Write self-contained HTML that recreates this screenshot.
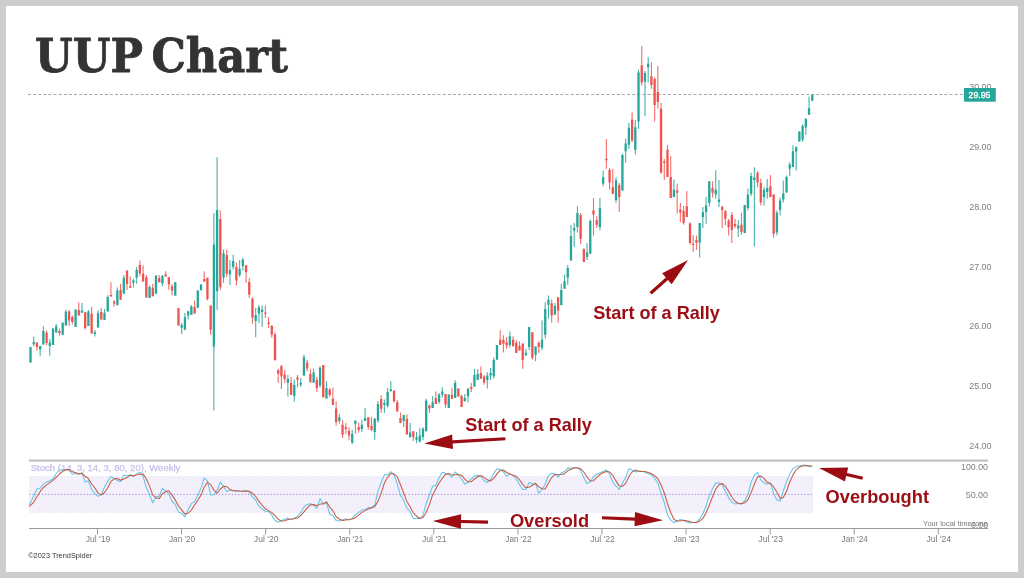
<!DOCTYPE html>
<html lang="en"><head><meta charset="utf-8"><title>UUP Chart</title>
<style>
html,body{margin:0;padding:0;background:#cdcdcd;}
body{width:1024px;height:578px;overflow:hidden;position:relative;font-family:"Liberation Sans",sans-serif;}
svg text{white-space:pre;}
</style></head><body>
<svg width="1024" height="578" viewBox="0 0 1024 578" style="position:absolute;left:0;top:0;display:block">
<rect x="0" y="0" width="1024" height="578" fill="#cdcdcd"/>
<rect x="6" y="6" width="1012" height="566" fill="#ffffff"/>
<text x="35" y="72.1" font-family="'DejaVu Serif', 'Liberation Serif', serif" font-weight="bold" font-size="46.5" fill="#333333" stroke="#333333" stroke-width="0.8" stroke-linejoin="round" textLength="253" lengthAdjust="spacingAndGlyphs" style="word-spacing:-7px">UUP Chart</text>
<text x="969.2" y="90.00" font-family="'Liberation Sans', sans-serif" font-size="9.7" fill="#808080" textLength="22.3" lengthAdjust="spacingAndGlyphs">30.00</text>
<text x="969.2" y="149.50" font-family="'Liberation Sans', sans-serif" font-size="9.7" fill="#808080" textLength="22.3" lengthAdjust="spacingAndGlyphs">29.00</text>
<text x="969.2" y="209.50" font-family="'Liberation Sans', sans-serif" font-size="9.7" fill="#808080" textLength="22.3" lengthAdjust="spacingAndGlyphs">28.00</text>
<text x="969.2" y="269.50" font-family="'Liberation Sans', sans-serif" font-size="9.7" fill="#808080" textLength="22.3" lengthAdjust="spacingAndGlyphs">27.00</text>
<text x="969.2" y="329.00" font-family="'Liberation Sans', sans-serif" font-size="9.7" fill="#808080" textLength="22.3" lengthAdjust="spacingAndGlyphs">26.00</text>
<text x="969.2" y="389.00" font-family="'Liberation Sans', sans-serif" font-size="9.7" fill="#808080" textLength="22.3" lengthAdjust="spacingAndGlyphs">25.00</text>
<text x="969.2" y="449.00" font-family="'Liberation Sans', sans-serif" font-size="9.7" fill="#808080" textLength="22.3" lengthAdjust="spacingAndGlyphs">24.00</text>
<line x1="28.0" y1="94.5" x2="964" y2="94.5" stroke="#a4a4a4" stroke-width="1" stroke-dasharray="2.9 2.22"/>
<path d="M30.50 347.0V362.5M33.72 336.5V346.2M40.15 346.0V355.8M43.37 326.3V344.4M49.80 339.0V355.8M53.02 328.5V345.0M56.24 324.0V332.5M62.67 321.9V334.8M65.89 309.4V325.6M75.54 309.4V326.9M81.97 303.1V312.8M88.41 310.0V326.0M94.84 330.0V336.5M98.06 310.3V327.5M104.49 309.0V320.0M107.71 295.3V311.5M117.36 287.5V305.3M123.80 275.0V293.8M133.45 278.8V287.5M136.66 266.9V283.8M149.53 285.3V298.1M155.97 275.6V293.8M162.40 275.0V286.5M175.27 282.3V295.6M181.70 323.0V334.0M184.92 313.0V329.8M188.14 311.3V319.4M191.35 305.0V314.8M197.79 290.6V307.8M201.01 284.4V290.3M213.87 213.1V410.6M217.09 157.2V309.8M223.53 249.4V282.8M229.96 260.0V285.0M233.18 254.8V269.4M239.61 260.0V276.9M242.83 258.1V270.6M255.70 308.1V337.3M258.91 305.0V323.1M262.13 305.6V326.9M287.87 375.0V396.5M294.30 379.4V401.5M300.74 378.1V386.9M303.95 354.4V375.6M313.60 369.0V382.8M320.04 366.0V387.5M326.47 381.3V398.5M339.34 414.0V423.5M352.21 429.8V443.8M355.43 420.6V433.8M361.86 419.4V432.3M365.08 408.1V421.0M374.73 418.1V439.8M377.95 401.0V422.8M384.38 399.4V413.1M387.60 388.1V407.5M390.82 381.3V391.3M403.68 415.0V426.9M410.12 423.1V437.3M416.55 431.9V443.1M419.77 428.1V442.5M422.99 427.3V440.3M426.20 398.8V431.3M432.64 396.0V408.1M439.07 393.1V403.8M442.29 387.3V397.5M448.72 394.4V408.1M455.16 380.3V398.1M464.81 394.0V401.3M468.03 388.5V402.3M474.46 369.0V386.5M477.68 369.0V380.0M487.33 372.3V388.5M490.55 368.1V380.0M493.76 357.5V378.8M496.98 345.0V359.8M509.85 331.5V347.5M525.93 349.0V356.3M529.15 326.9V350.0M535.58 346.5V361.3M542.02 320.6V350.3M545.24 302.3V338.5M548.45 295.6V318.8M554.89 303.1V314.8M561.32 284.0V305.6M564.54 274.4V288.8M567.76 265.0V285.0M570.97 225.0V260.6M574.19 223.1V246.9M577.41 206.3V232.5M587.06 243.1V260.0M590.28 219.4V253.8M599.93 198.1V230.6M603.14 170.6V186.3M616.01 177.3V203.1M622.45 153.5V190.6M625.66 138.5V162.8M628.88 123.1V149.0M635.31 120.0V154.4M638.53 69.4V129.0M644.97 71.0V116.3M648.18 56.9V82.5M673.92 179.4V196.9M699.66 223.1V257.5M702.87 206.9V228.1M706.09 196.9V223.8M709.31 181.3V206.6M715.74 170.3V198.8M718.96 180.0V206.9M738.26 220.0V236.9M744.70 205.0V233.1M747.91 188.8V210.6M751.13 172.8V196.0M754.35 167.3V246.5M764.00 187.3V205.6M767.22 179.0V198.8M776.87 210.6V235.6M780.08 197.5V215.6M783.30 180.6V202.5M786.52 175.6V192.5M789.74 162.3V176.2M792.95 145.5V166.9M796.17 146.3V170.6M799.39 131.6V141.6M802.60 124.1V141.8M805.82 117.9V135.0M809.04 96.6V114.8M812.26 94.8V100.8" stroke="#26a69a" stroke-width="1.1" fill="none" opacity="0.85"/>
<path d="M36.93 342.5V350.6M46.59 330.6V345.3M59.45 328.5V335.6M69.11 310.0V326.0M72.32 315.6V324.4M78.76 302.3V315.6M85.19 312.3V329.8M91.62 306.9V333.5M101.28 308.1V319.4M110.93 282.3V296.5M114.14 300.0V306.5M120.58 284.0V299.8M127.01 270.6V290.0M130.23 276.5V287.8M139.88 260.6V276.3M143.10 265.6V281.5M146.32 275.0V297.5M152.75 284.0V296.3M159.18 275.0V282.3M165.62 271.3V276.5M168.84 277.3V289.8M172.05 284.0V295.3M178.49 308.1V325.6M194.57 300.6V313.5M204.22 271.3V281.5M207.44 277.8V300.6M210.66 305.6V334.8M220.31 210.6V290.3M226.74 249.8V276.9M236.39 262.5V285.6M246.05 265.3V282.8M249.26 278.1V298.1M252.48 297.3V323.8M265.35 305.6V318.1M268.57 316.9V328.1M271.78 325.0V337.8M275.00 332.3V360.3M278.22 368.8V382.8M281.43 365.0V389.0M284.65 370.0V382.8M291.09 376.9V394.8M297.52 375.0V387.5M307.17 360.0V371.5M310.39 369.0V382.3M316.82 376.9V391.9M323.26 365.0V397.3M329.69 388.1V397.3M332.91 387.8V405.0M336.12 401.3V425.6M342.56 420.0V438.1M345.78 423.1V433.8M348.99 427.3V440.3M358.64 422.3V432.8M368.30 417.3V429.8M371.51 416.9V431.0M381.16 395.3V413.1M394.03 390.6V402.8M397.25 400.0V411.5M400.47 412.5V423.1M406.90 414.4V434.4M413.33 431.3V441.0M429.42 404.4V413.1M435.85 391.5V404.0M445.51 394.0V407.8M451.94 387.8V398.8M458.37 388.5V396.5M461.59 394.4V406.9M471.24 383.1V391.9M480.89 366.5V378.8M484.11 375.0V384.8M500.20 330.3V345.0M503.41 335.3V352.5M506.63 336.9V348.8M513.07 336.3V346.3M516.28 340.0V353.1M519.50 341.3V350.6M522.72 343.0V368.8M532.37 332.3V359.4M538.80 341.3V353.1M551.67 299.4V322.8M558.10 297.3V322.8M580.62 213.1V244.0M583.84 248.8V261.9M593.49 198.1V235.6M596.71 216.3V228.1M606.36 139.0V168.8M609.58 168.1V189.4M612.80 169.0V193.8M619.23 183.1V211.9M632.10 112.3V141.9M641.75 46.0V85.6M651.40 62.3V88.8M654.62 77.3V121.5M657.83 66.0V108.8M661.05 103.1V173.8M664.27 158.8V180.0M667.49 145.0V176.9M670.70 156.0V198.1M677.14 183.8V213.5M680.35 203.1V222.3M683.57 206.0V224.8M686.79 191.0V216.9M690.01 222.3V244.4M693.22 235.0V251.9M696.44 235.6V250.0M712.53 181.3V197.5M722.18 205.6V228.1M725.39 210.0V225.3M728.61 219.0V235.6M731.83 212.3V243.1M735.04 218.8V228.1M741.48 212.8V234.8M757.56 171.3V187.3M760.78 178.8V205.6M770.43 175.0V196.9M773.65 194.4V237.8" stroke="#ef5350" stroke-width="1.1" fill="none" opacity="0.85"/>
<path d="M29.35 347.0h2.3V362.5h-2.3zM32.57 342.0h2.3V344.2h-2.3zM39.00 346.0h2.3V349.5h-2.3zM42.22 331.0h2.3V344.4h-2.3zM48.65 342.5h2.3V345.9h-2.3zM51.87 328.5h2.3V345.0h-2.3zM55.09 326.3h2.3V332.5h-2.3zM61.52 323.1h2.3V334.8h-2.3zM64.74 311.5h2.3V325.6h-2.3zM74.39 309.4h2.3V326.9h-2.3zM80.82 310.6h2.3V312.8h-2.3zM87.26 311.5h2.3V326.0h-2.3zM93.69 332.3h2.3V334.0h-2.3zM96.91 313.1h2.3V327.5h-2.3zM103.34 312.8h2.3V320.0h-2.3zM106.56 296.9h2.3V311.5h-2.3zM116.21 290.6h2.3V305.3h-2.3zM122.65 277.8h2.3V293.8h-2.3zM132.30 280.6h2.3V282.8h-2.3zM135.51 270.0h2.3V277.8h-2.3zM148.38 286.9h2.3V298.1h-2.3zM154.82 275.6h2.3V293.8h-2.3zM161.25 276.0h2.3V283.5h-2.3zM174.12 282.3h2.3V295.6h-2.3zM180.55 325.0h2.3V327.8h-2.3zM183.77 317.3h2.3V329.8h-2.3zM186.99 311.3h2.3V315.6h-2.3zM190.20 306.5h2.3V314.8h-2.3zM196.64 290.6h2.3V307.8h-2.3zM199.86 284.4h2.3V290.3h-2.3zM212.72 244.4h2.3V346.5h-2.3zM215.94 210.0h2.3V291.3h-2.3zM222.38 253.3h2.3V277.8h-2.3zM228.81 270.0h2.3V274.4h-2.3zM232.03 261.0h2.3V266.9h-2.3zM238.46 268.8h2.3V275.0h-2.3zM241.68 259.8h2.3V266.0h-2.3zM254.55 315.0h2.3V321.0h-2.3zM257.76 307.3h2.3V313.5h-2.3zM260.98 309.4h2.3V311.9h-2.3zM286.72 379.0h2.3V382.8h-2.3zM293.15 385.0h2.3V396.0h-2.3zM299.59 382.8h2.3V384.8h-2.3zM302.80 357.3h2.3V375.6h-2.3zM312.45 372.5h2.3V382.8h-2.3zM318.89 367.8h2.3V385.6h-2.3zM325.32 388.1h2.3V398.5h-2.3zM338.19 417.3h2.3V421.0h-2.3zM351.06 434.0h2.3V442.8h-2.3zM354.28 420.6h2.3V423.8h-2.3zM360.71 424.8h2.3V429.0h-2.3zM363.93 418.1h2.3V421.0h-2.3zM373.58 418.8h2.3V431.9h-2.3zM376.80 404.0h2.3V420.6h-2.3zM383.23 403.1h2.3V405.0h-2.3zM386.45 391.9h2.3V406.0h-2.3zM389.67 389.4h2.3V391.3h-2.3zM402.53 415.0h2.3V421.0h-2.3zM408.97 432.5h2.3V437.3h-2.3zM415.40 437.3h2.3V439.8h-2.3zM418.62 435.6h2.3V441.5h-2.3zM421.84 428.8h2.3V436.9h-2.3zM425.05 400.6h2.3V431.3h-2.3zM431.49 402.3h2.3V408.1h-2.3zM437.92 394.4h2.3V401.9h-2.3zM441.14 391.5h2.3V394.8h-2.3zM447.57 394.4h2.3V408.1h-2.3zM454.01 382.8h2.3V398.1h-2.3zM463.66 398.1h2.3V401.3h-2.3zM466.88 388.5h2.3V396.3h-2.3zM473.31 375.0h2.3V386.5h-2.3zM476.53 374.0h2.3V380.0h-2.3zM486.18 375.6h2.3V380.0h-2.3zM489.40 373.1h2.3V375.6h-2.3zM492.61 360.0h2.3V376.3h-2.3zM495.83 345.0h2.3V359.8h-2.3zM508.70 336.3h2.3V345.0h-2.3zM524.78 352.8h2.3V355.0h-2.3zM528.00 326.9h2.3V346.9h-2.3zM534.43 346.5h2.3V354.8h-2.3zM540.87 339.8h2.3V347.8h-2.3zM544.09 309.0h2.3V334.8h-2.3zM547.30 300.0h2.3V304.8h-2.3zM553.74 306.0h2.3V314.8h-2.3zM560.17 290.0h2.3V305.0h-2.3zM563.39 281.3h2.3V288.8h-2.3zM566.61 268.1h2.3V277.8h-2.3zM569.82 236.3h2.3V260.6h-2.3zM573.04 228.1h2.3V230.6h-2.3zM576.26 213.1h2.3V226.9h-2.3zM585.91 252.5h2.3V256.9h-2.3zM589.13 221.0h2.3V253.8h-2.3zM598.78 208.1h2.3V226.9h-2.3zM601.99 177.3h2.3V183.8h-2.3zM614.86 180.6h2.3V200.0h-2.3zM621.30 155.0h2.3V190.6h-2.3zM624.51 143.5h2.3V151.3h-2.3zM627.73 127.8h2.3V144.8h-2.3zM634.16 127.3h2.3V149.8h-2.3zM637.38 72.5h2.3V121.5h-2.3zM643.82 73.1h2.3V81.5h-2.3zM647.03 63.8h2.3V67.3h-2.3zM672.77 189.8h2.3V196.9h-2.3zM698.51 223.1h2.3V242.5h-2.3zM701.72 212.3h2.3V216.9h-2.3zM704.94 205.6h2.3V211.9h-2.3zM708.16 181.3h2.3V203.1h-2.3zM714.59 189.8h2.3V194.4h-2.3zM717.81 199.4h2.3V201.9h-2.3zM737.11 225.6h2.3V228.5h-2.3zM743.55 205.0h2.3V233.1h-2.3zM746.76 194.8h2.3V208.1h-2.3zM749.98 176.0h2.3V193.8h-2.3zM753.20 177.5h2.3V180.0h-2.3zM762.85 189.8h2.3V196.9h-2.3zM766.07 188.1h2.3V191.9h-2.3zM775.72 212.8h2.3V232.5h-2.3zM778.93 200.6h2.3V210.0h-2.3zM782.15 193.5h2.3V199.4h-2.3zM785.37 176.9h2.3V192.5h-2.3zM788.59 164.4h2.3V168.8h-2.3zM791.80 151.2h2.3V166.9h-2.3zM795.02 147.2h2.3V151.6h-2.3zM798.24 131.6h2.3V141.6h-2.3zM801.45 126.0h2.3V139.8h-2.3zM804.67 119.1h2.3V127.5h-2.3zM807.89 108.3h2.3V114.8h-2.3zM811.11 94.8h2.3V100.8h-2.3z" fill="#26a69a"/>
<path d="M35.78 342.5h2.3V346.9h-2.3zM45.44 332.8h2.3V343.1h-2.3zM58.30 331.0h2.3V333.1h-2.3zM67.96 311.5h2.3V320.6h-2.3zM71.17 316.9h2.3V321.9h-2.3zM77.61 310.0h2.3V315.6h-2.3zM84.04 312.3h2.3V328.1h-2.3zM90.47 313.8h2.3V333.5h-2.3zM100.13 311.9h2.3V319.4h-2.3zM109.78 295.0h2.3V296.5h-2.3zM112.99 301.5h2.3V303.5h-2.3zM119.43 290.0h2.3V299.8h-2.3zM125.86 270.6h2.3V284.0h-2.3zM129.08 286.3h2.3V287.8h-2.3zM138.73 265.0h2.3V273.5h-2.3zM141.95 273.8h2.3V281.5h-2.3zM145.17 277.3h2.3V297.5h-2.3zM151.60 287.8h2.3V296.3h-2.3zM158.03 278.1h2.3V282.3h-2.3zM164.47 274.4h2.3V276.5h-2.3zM167.69 277.3h2.3V284.4h-2.3zM170.90 286.3h2.3V290.6h-2.3zM177.34 308.1h2.3V325.6h-2.3zM193.42 306.9h2.3V313.5h-2.3zM203.07 279.0h2.3V281.5h-2.3zM206.29 277.8h2.3V299.0h-2.3zM209.51 305.6h2.3V329.8h-2.3zM219.16 219.0h2.3V287.3h-2.3zM225.59 254.9h2.3V273.8h-2.3zM235.24 266.9h2.3V280.6h-2.3zM244.90 265.3h2.3V271.9h-2.3zM248.11 281.9h2.3V294.4h-2.3zM251.33 298.8h2.3V317.5h-2.3zM264.20 312.5h2.3V313.8h-2.3zM267.42 322.5h2.3V324.0h-2.3zM270.63 326.0h2.3V334.8h-2.3zM273.85 334.4h2.3V360.3h-2.3zM277.07 370.0h2.3V373.8h-2.3zM280.28 366.3h2.3V376.3h-2.3zM283.50 374.4h2.3V379.0h-2.3zM289.94 383.1h2.3V394.8h-2.3zM296.37 377.5h2.3V379.8h-2.3zM306.02 362.5h2.3V368.5h-2.3zM309.24 374.0h2.3V382.3h-2.3zM315.67 379.8h2.3V388.1h-2.3zM322.11 365.0h2.3V397.3h-2.3zM328.54 389.4h2.3V395.0h-2.3zM331.76 398.8h2.3V405.0h-2.3zM334.97 408.5h2.3V421.9h-2.3zM341.41 424.8h2.3V434.4h-2.3zM344.63 427.3h2.3V429.0h-2.3zM347.84 431.0h2.3V435.6h-2.3zM357.49 426.9h2.3V430.0h-2.3zM367.15 417.3h2.3V426.9h-2.3zM370.36 426.0h2.3V429.8h-2.3zM380.01 399.0h2.3V408.8h-2.3zM392.88 390.6h2.3V401.3h-2.3zM396.10 402.3h2.3V411.5h-2.3zM399.32 418.1h2.3V423.1h-2.3zM405.75 418.8h2.3V434.4h-2.3zM412.18 431.3h2.3V436.9h-2.3zM428.27 405.6h2.3V408.5h-2.3zM434.70 398.1h2.3V404.0h-2.3zM444.36 394.0h2.3V404.4h-2.3zM450.79 394.8h2.3V398.8h-2.3zM457.22 388.5h2.3V396.5h-2.3zM460.44 396.0h2.3V406.9h-2.3zM470.09 386.9h2.3V388.8h-2.3zM479.74 373.1h2.3V378.8h-2.3zM482.96 376.5h2.3V382.5h-2.3zM499.05 339.8h2.3V345.0h-2.3zM502.26 340.0h2.3V343.8h-2.3zM505.48 342.3h2.3V345.6h-2.3zM511.92 339.8h2.3V346.3h-2.3zM515.13 342.8h2.3V353.1h-2.3zM518.35 346.0h2.3V350.6h-2.3zM521.57 343.8h2.3V360.0h-2.3zM531.22 332.3h2.3V357.8h-2.3zM537.65 342.8h2.3V346.9h-2.3zM550.52 303.3h2.3V315.6h-2.3zM556.95 297.3h2.3V310.6h-2.3zM579.47 215.0h2.3V238.8h-2.3zM582.69 248.8h2.3V261.9h-2.3zM592.34 210.6h2.3V214.4h-2.3zM595.56 220.0h2.3V224.8h-2.3zM605.21 158.8h2.3V160.3h-2.3zM608.43 170.0h2.3V182.5h-2.3zM611.65 187.3h2.3V193.8h-2.3zM618.08 185.0h2.3V196.9h-2.3zM630.95 119.4h2.3V140.6h-2.3zM640.60 65.3h2.3V82.5h-2.3zM650.25 76.3h2.3V85.0h-2.3zM653.47 79.0h2.3V105.0h-2.3zM656.68 91.9h2.3V101.9h-2.3zM659.90 108.8h2.3V172.5h-2.3zM663.12 161.3h2.3V162.8h-2.3zM666.34 149.4h2.3V176.9h-2.3zM669.55 176.9h2.3V198.1h-2.3zM675.99 190.6h2.3V192.8h-2.3zM679.20 209.4h2.3V212.5h-2.3zM682.42 211.0h2.3V223.1h-2.3zM685.64 206.3h2.3V216.9h-2.3zM688.86 223.5h2.3V243.1h-2.3zM692.07 243.8h2.3V245.0h-2.3zM695.29 240.0h2.3V242.8h-2.3zM711.38 188.1h2.3V192.8h-2.3zM721.03 206.9h2.3V210.0h-2.3zM724.24 211.3h2.3V218.8h-2.3zM727.46 220.6h2.3V226.9h-2.3zM730.68 215.0h2.3V230.0h-2.3zM733.89 224.0h2.3V226.3h-2.3zM740.33 224.8h2.3V231.9h-2.3zM756.41 172.8h2.3V182.5h-2.3zM759.63 183.1h2.3V202.5h-2.3zM769.28 186.3h2.3V196.9h-2.3zM772.50 194.4h2.3V233.8h-2.3z" fill="#ef5350"/>
<rect x="964" y="88" width="31.8" height="13.7" fill="#26a69a"/>
<text x="968.6" y="97.9" font-family="'Liberation Sans', sans-serif" font-size="9.3" fill="#ffffff" stroke="#ffffff" stroke-width="0.35" textLength="21.8" lengthAdjust="spacingAndGlyphs">29.95</text>
<rect x="29" y="459.4" width="959" height="2.4" fill="#c6c6c6"/>
<rect x="29" y="476.5" width="784" height="36" fill="#f3effb"/>
<path d="M29 476.6H813M29 512.4H813" stroke="#e3dcf4" stroke-width="0.8" stroke-dasharray="1.3 1.9171" fill="none"/>
<line x1="29" y1="494.4" x2="813" y2="494.4" stroke="#a48cda" stroke-width="1" stroke-dasharray="1.3 1.9171"/>
<text x="30.7" y="471.3" font-family="'Liberation Sans', sans-serif" font-size="9.3" fill="#c8beeb" stroke="#c8beeb" stroke-width="0.25" textLength="149.7" lengthAdjust="spacingAndGlyphs">Stoch (14, 3, 14, 3, 80, 20), Weekly</text>
<path d="M29.1 505.0L30.5 502.5L33.7 496.3L36.9 489.0L40.2 488.0L43.4 483.9L46.6 482.1L49.8 480.8L53.0 478.9L56.2 473.5L59.5 470.0L62.7 469.5L65.9 469.4L69.1 470.2L72.3 474.3L75.5 473.5L78.8 474.2L82.0 472.6L85.2 482.2L88.4 480.7L91.6 489.2L94.8 493.6L98.1 496.4L101.3 494.8L104.5 486.9L107.7 481.4L110.9 476.7L114.1 478.3L117.4 480.6L120.6 481.8L123.8 475.0L127.0 476.0L130.2 474.7L133.4 476.8L136.7 473.7L139.9 472.3L143.1 476.3L146.3 487.8L149.5 494.2L152.7 502.7L156.0 496.8L159.2 496.2L162.4 488.5L165.6 490.5L168.8 493.4L172.1 501.5L175.3 504.6L178.5 511.9L181.7 513.4L184.9 516.9L188.1 509.7L191.4 503.4L194.6 501.8L197.8 495.2L201.0 488.2L204.2 478.1L207.4 480.8L210.7 494.9L213.9 494.8L217.1 490.2L220.3 482.1L223.5 486.5L226.7 491.5L230.0 490.1L233.2 490.7L236.4 491.3L239.6 491.2L242.8 491.1L246.0 490.4L249.3 492.4L252.5 496.9L255.7 500.3L258.9 506.1L262.1 509.0L265.3 511.2L268.6 511.5L271.8 515.2L275.0 520.5L278.2 522.0L281.4 520.8L284.7 519.3L287.9 518.1L291.1 519.7L294.3 518.1L297.5 516.3L300.7 512.7L304.0 506.7L307.2 504.4L310.4 503.7L313.6 505.3L316.8 508.3L320.0 498.6L323.3 504.4L326.5 502.6L329.7 514.0L332.9 515.8L336.1 520.4L339.3 520.9L342.6 520.0L345.8 518.8L349.0 520.0L352.2 518.4L355.4 514.7L358.6 512.4L361.9 510.1L365.1 509.5L368.3 507.6L371.5 507.4L374.7 505.0L377.9 491.9L381.2 482.5L384.4 474.7L387.6 474.7L390.8 471.7L394.0 474.9L397.2 483.8L400.5 495.4L403.7 500.5L406.9 508.3L410.1 511.5L413.3 518.5L416.6 518.5L419.8 518.6L423.0 515.3L426.2 503.5L429.4 494.8L432.6 486.3L435.9 485.2L439.1 477.5L442.3 472.3L445.5 473.3L448.7 474.7L451.9 477.3L455.2 472.0L458.4 474.6L461.6 479.0L464.8 484.1L468.0 482.2L471.2 478.8L474.5 476.0L477.7 475.3L480.9 476.1L484.1 480.7L487.3 482.5L490.5 479.7L493.8 473.1L497.0 468.8L500.2 469.4L503.4 471.9L506.6 476.1L509.8 474.0L513.1 475.6L516.3 479.2L519.5 484.5L522.7 489.5L525.9 489.3L529.2 482.4L532.4 483.8L535.6 483.7L538.8 493.1L542.0 489.5L545.2 484.0L548.5 475.7L551.7 473.2L554.9 474.0L558.1 476.9L561.3 472.9L564.5 471.5L567.8 468.1L571.0 468.3L574.2 467.6L577.4 467.8L580.6 470.6L583.8 477.5L587.1 483.6L590.3 481.7L593.5 476.6L596.7 474.0L599.9 473.0L603.1 471.4L606.4 470.0L609.6 474.3L612.8 482.2L616.0 486.1L619.2 489.5L622.4 483.3L625.7 477.4L628.9 468.7L632.1 470.1L635.3 471.7L638.5 471.4L641.7 471.3L645.0 472.2L648.2 473.9L651.4 474.6L654.6 478.5L657.8 483.0L661.1 493.5L664.3 502.5L667.5 515.2L670.7 519.9L673.9 522.7L677.1 520.7L680.4 519.6L683.6 520.5L686.8 522.0L690.0 522.9L693.2 522.4L696.4 522.4L699.7 518.9L702.9 513.8L706.1 505.7L709.3 495.8L712.5 488.9L715.7 482.7L719.0 482.9L722.2 484.7L725.4 491.3L728.6 497.6L731.8 502.1L735.0 503.9L738.3 503.6L741.5 504.0L744.7 500.7L747.9 494.8L751.1 482.3L754.3 475.4L757.6 472.5L760.8 479.8L764.0 482.9L767.2 484.3L770.4 482.9L773.7 493.9L776.9 500.1L780.1 501.0L783.3 490.9L786.5 481.9L789.7 474.1L793.0 468.6L796.2 466.6L799.4 466.1L802.6 465.3L805.8 465.1L809.0 466.8L812.3 466.4" fill="none" stroke="#60c5e7" stroke-width="1.05" stroke-linejoin="round"/>
<path d="M29.1 506.5L30.5 505.4L33.7 502.3L36.9 496.8L40.2 491.4L43.4 487.5L46.6 484.9L49.8 482.6L53.0 480.4L56.2 477.3L59.5 474.1L62.7 471.3L65.9 469.6L69.1 469.6L72.3 471.7L75.5 472.6L78.8 474.0L82.0 473.4L85.2 476.3L88.4 478.5L91.6 484.0L94.8 487.8L98.1 493.1L101.3 494.9L104.5 492.7L107.7 487.7L110.9 481.7L114.1 478.8L117.4 478.5L120.6 480.3L123.8 479.1L127.0 477.6L130.2 475.2L133.4 475.8L136.7 475.1L139.9 474.3L143.1 474.1L146.3 478.8L149.5 486.1L152.7 494.9L156.0 497.9L159.2 498.6L162.4 493.8L165.6 491.7L168.8 490.8L172.1 495.1L175.3 499.9L178.5 506.0L181.7 509.9L184.9 514.1L188.1 513.3L191.4 510.0L194.6 505.0L197.8 500.2L201.0 495.1L204.2 487.2L207.4 482.4L210.7 484.6L213.9 490.2L217.1 493.3L220.3 489.0L223.5 486.3L226.7 486.7L230.0 489.4L233.2 490.8L236.4 490.7L239.6 491.0L242.8 491.2L246.0 490.9L249.3 491.3L252.5 493.2L255.7 496.5L258.9 501.1L262.1 505.1L265.3 508.8L268.6 510.6L271.8 512.6L275.0 515.7L278.2 519.2L281.4 521.1L284.7 520.7L287.9 519.4L291.1 519.1L294.3 518.7L297.5 518.1L300.7 515.7L304.0 511.9L307.2 507.9L310.4 504.9L313.6 504.5L316.8 505.8L320.0 504.1L323.3 503.8L326.5 501.8L329.7 507.0L332.9 510.8L336.1 516.8L339.3 519.0L342.6 520.4L345.8 519.9L349.0 519.6L352.2 519.1L355.4 517.7L358.6 515.2L361.9 512.4L365.1 510.6L368.3 509.0L371.5 508.1L374.7 506.6L377.9 501.4L381.2 493.1L384.4 483.0L387.6 477.3L390.8 473.7L394.0 473.8L397.2 476.8L400.5 484.7L403.7 493.2L406.9 501.4L410.1 506.7L413.3 512.8L416.6 516.2L419.8 518.5L423.0 517.5L426.2 512.5L429.4 504.6L432.6 494.9L435.9 488.8L439.1 483.0L442.3 478.3L445.5 474.4L448.7 473.4L451.9 475.1L455.2 474.7L458.4 474.6L461.6 475.2L464.8 479.2L468.0 481.8L471.2 481.7L474.5 479.0L477.7 476.7L480.9 475.8L484.1 477.4L487.3 479.7L490.5 481.0L493.8 478.4L497.0 473.9L500.2 470.4L503.4 470.0L506.6 472.5L509.8 474.0L513.1 475.3L516.3 476.3L519.5 479.8L522.7 484.4L525.9 487.8L529.2 487.1L532.4 485.2L535.6 483.3L538.8 486.9L542.0 488.8L545.2 488.9L548.5 483.1L551.7 477.6L554.9 474.3L558.1 474.7L561.3 474.6L564.5 473.8L567.8 470.8L571.0 469.3L574.2 468.0L577.4 467.9L580.6 468.7L583.8 472.0L587.1 477.2L590.3 481.0L593.5 480.7L596.7 477.4L599.9 474.5L603.1 472.8L606.4 471.5L609.6 471.9L612.8 475.5L616.0 480.9L619.2 485.9L622.4 486.3L625.7 483.4L628.9 476.4L632.1 472.0L635.3 470.1L638.5 471.0L641.7 471.5L645.0 471.6L648.2 472.5L651.4 473.6L654.6 475.7L657.8 478.7L661.1 485.0L664.3 493.0L667.5 503.7L670.7 512.5L673.9 519.3L677.1 521.1L680.4 521.0L683.6 520.2L686.8 520.7L690.0 521.8L693.2 522.4L696.4 522.6L699.7 521.2L702.9 518.4L706.1 512.8L709.3 505.1L712.5 496.8L715.7 489.1L719.0 484.8L722.2 483.4L725.4 486.3L728.6 491.2L731.8 497.0L735.0 501.2L738.3 503.2L741.5 503.8L744.7 502.8L747.9 499.8L751.1 492.6L754.3 484.2L757.6 476.7L760.8 475.9L764.0 478.4L767.2 482.3L770.4 483.4L773.7 487.0L776.9 492.3L780.1 498.4L783.3 497.4L786.5 491.3L789.7 482.3L793.0 474.9L796.2 469.8L799.4 467.1L802.6 466.0L805.8 465.5L809.0 465.7L812.3 466.1" fill="none" stroke="#c85a41" stroke-width="1.05" stroke-linejoin="round"/>
<text x="961" y="470.00" font-family="'Liberation Sans', sans-serif" font-size="9.7" fill="#808080" textLength="27" lengthAdjust="spacingAndGlyphs">100.00</text>
<text x="965.7" y="498.00" font-family="'Liberation Sans', sans-serif" font-size="9.7" fill="#808080" textLength="22.3" lengthAdjust="spacingAndGlyphs">50.00</text>
<text x="971" y="528.00" font-family="'Liberation Sans', sans-serif" font-size="9.7" fill="#808080" textLength="17" lengthAdjust="spacingAndGlyphs">0.00</text>
<text x="923.1" y="525.8" font-family="'Liberation Sans', sans-serif" font-size="7.6" fill="#777777" textLength="64.7" lengthAdjust="spacingAndGlyphs">Your local timezone</text>
<line x1="29" y1="528.5" x2="988" y2="528.5" stroke="#9a9a9a" stroke-width="1"/>
<line x1="97.50" y1="528.5" x2="97.50" y2="534.5" stroke="#9a9a9a" stroke-width="1"/>
<text x="85.70" y="542.3" font-family="'Liberation Sans', sans-serif" font-size="9" fill="#7a7a7a" textLength="24.6" lengthAdjust="spacingAndGlyphs">Jul '19</text>
<line x1="181.58" y1="528.5" x2="181.58" y2="534.5" stroke="#9a9a9a" stroke-width="1"/>
<text x="168.98" y="542.3" font-family="'Liberation Sans', sans-serif" font-size="9" fill="#7a7a7a" textLength="26.2" lengthAdjust="spacingAndGlyphs">Jan '20</text>
<line x1="265.66" y1="528.5" x2="265.66" y2="534.5" stroke="#9a9a9a" stroke-width="1"/>
<text x="253.86" y="542.3" font-family="'Liberation Sans', sans-serif" font-size="9" fill="#7a7a7a" textLength="24.6" lengthAdjust="spacingAndGlyphs">Jul '20</text>
<line x1="349.74" y1="528.5" x2="349.74" y2="534.5" stroke="#9a9a9a" stroke-width="1"/>
<text x="337.14" y="542.3" font-family="'Liberation Sans', sans-serif" font-size="9" fill="#7a7a7a" textLength="26.2" lengthAdjust="spacingAndGlyphs">Jan '21</text>
<line x1="433.82" y1="528.5" x2="433.82" y2="534.5" stroke="#9a9a9a" stroke-width="1"/>
<text x="422.02" y="542.3" font-family="'Liberation Sans', sans-serif" font-size="9" fill="#7a7a7a" textLength="24.6" lengthAdjust="spacingAndGlyphs">Jul '21</text>
<line x1="517.90" y1="528.5" x2="517.90" y2="534.5" stroke="#9a9a9a" stroke-width="1"/>
<text x="505.30" y="542.3" font-family="'Liberation Sans', sans-serif" font-size="9" fill="#7a7a7a" textLength="26.2" lengthAdjust="spacingAndGlyphs">Jan '22</text>
<line x1="601.98" y1="528.5" x2="601.98" y2="534.5" stroke="#9a9a9a" stroke-width="1"/>
<text x="590.18" y="542.3" font-family="'Liberation Sans', sans-serif" font-size="9" fill="#7a7a7a" textLength="24.6" lengthAdjust="spacingAndGlyphs">Jul '22</text>
<line x1="686.06" y1="528.5" x2="686.06" y2="534.5" stroke="#9a9a9a" stroke-width="1"/>
<text x="673.46" y="542.3" font-family="'Liberation Sans', sans-serif" font-size="9" fill="#7a7a7a" textLength="26.2" lengthAdjust="spacingAndGlyphs">Jan '23</text>
<line x1="770.14" y1="528.5" x2="770.14" y2="534.5" stroke="#9a9a9a" stroke-width="1"/>
<text x="758.34" y="542.3" font-family="'Liberation Sans', sans-serif" font-size="9" fill="#7a7a7a" textLength="24.6" lengthAdjust="spacingAndGlyphs">Jul '23</text>
<line x1="854.22" y1="528.5" x2="854.22" y2="534.5" stroke="#9a9a9a" stroke-width="1"/>
<text x="841.62" y="542.3" font-family="'Liberation Sans', sans-serif" font-size="9" fill="#7a7a7a" textLength="26.2" lengthAdjust="spacingAndGlyphs">Jan '24</text>
<line x1="938.30" y1="528.5" x2="938.30" y2="534.5" stroke="#9a9a9a" stroke-width="1"/>
<text x="926.50" y="542.3" font-family="'Liberation Sans', sans-serif" font-size="9" fill="#7a7a7a" textLength="24.6" lengthAdjust="spacingAndGlyphs">Jul '24</text>
<text x="28.2" y="558.2" font-family="'Liberation Sans', sans-serif" font-size="7.4" fill="#383838" textLength="64" lengthAdjust="spacingAndGlyphs">©2023 TrendSpider</text>
<polygon points="505.31,437.15 452.46,440.18 452.14,434.59 424.30,443.40 452.97,448.97 452.65,443.38 505.49,440.35" fill="#9b0d13"/>
<text x="465.2" y="430.7" font-family="'Liberation Sans', sans-serif" font-weight="bold" font-size="18.1" fill="#9b0d13" textLength="126.7" lengthAdjust="spacingAndGlyphs">Start of a Rally</text>
<polygon points="651.66,294.40 667.97,279.96 671.68,284.15 688.10,260.00 662.14,273.37 665.85,277.56 649.54,292.00" fill="#9b0d13"/>
<text x="593.2" y="318.5" font-family="'Liberation Sans', sans-serif" font-weight="bold" font-size="18.1" fill="#9b0d13" textLength="126.7" lengthAdjust="spacingAndGlyphs">Start of a Rally</text>
<polygon points="488.03,520.50 461.08,519.91 461.20,514.32 432.75,520.90 460.89,528.71 461.01,523.11 487.97,523.70" fill="#9b0d13"/>
<polygon points="601.93,519.35 634.66,520.69 634.43,526.29 663.00,520.25 635.02,511.90 634.79,517.49 602.07,516.15" fill="#9b0d13"/>
<text x="509.9" y="527.4" font-family="'Liberation Sans', sans-serif" font-weight="bold" font-size="18.1" fill="#9b0d13" textLength="79.2" lengthAdjust="spacingAndGlyphs">Oversold</text>
<polygon points="863.11,476.69 846.93,472.94 848.20,467.48 819.00,468.10 844.94,481.51 846.21,476.05 862.39,479.81" fill="#9b0d13"/>
<text x="825.6" y="503" font-family="'Liberation Sans', sans-serif" font-weight="bold" font-size="18.1" fill="#9b0d13" textLength="103.4" lengthAdjust="spacingAndGlyphs">Overbought</text>
</svg>
</body></html>
